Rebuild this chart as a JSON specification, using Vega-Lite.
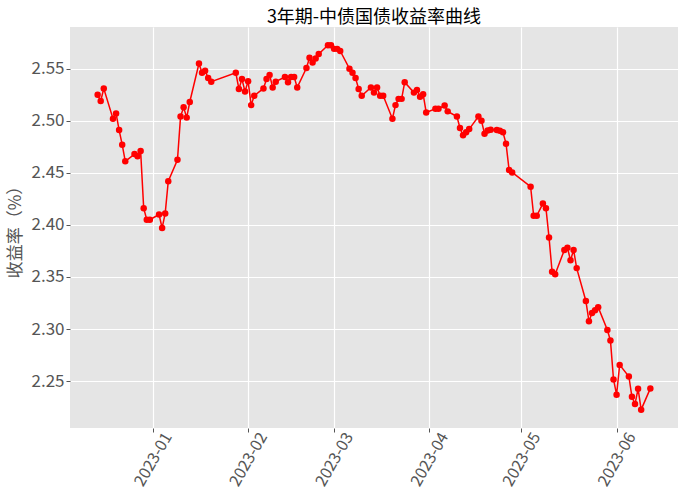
{
  "$schema": "https://vega.github.io/schema/vega-lite/v6.json",
  "width": 608,
  "height": 401,
  "autosize": {"type": "none"},
  "padding": {"left": 70, "top": 27, "right": 8, "bottom": 72},
  "background": "white",
  "title": {
    "text": "3年期-中债国债收益率曲线",
    "font": "Noto Sans CJK SC",
    "fontSize": 18,
    "fontWeight": "normal",
    "color": "#000000",
    "anchor": "middle",
    "offset": 0
  },
  "data": {
    "values": [
      {"date": "2022-12-14", "yield": 2.525},
      {"date": "2022-12-15", "yield": 2.519},
      {"date": "2022-12-16", "yield": 2.531},
      {"date": "2022-12-19", "yield": 2.502},
      {"date": "2022-12-20", "yield": 2.507},
      {"date": "2022-12-21", "yield": 2.491},
      {"date": "2022-12-22", "yield": 2.477},
      {"date": "2022-12-23", "yield": 2.461},
      {"date": "2022-12-26", "yield": 2.468},
      {"date": "2022-12-27", "yield": 2.466},
      {"date": "2022-12-28", "yield": 2.471},
      {"date": "2022-12-29", "yield": 2.416},
      {"date": "2022-12-30", "yield": 2.405},
      {"date": "2022-12-31", "yield": 2.405},
      {"date": "2023-01-03", "yield": 2.410},
      {"date": "2023-01-04", "yield": 2.397},
      {"date": "2023-01-05", "yield": 2.411},
      {"date": "2023-01-06", "yield": 2.442},
      {"date": "2023-01-09", "yield": 2.4625},
      {"date": "2023-01-10", "yield": 2.504},
      {"date": "2023-01-11", "yield": 2.513},
      {"date": "2023-01-12", "yield": 2.503},
      {"date": "2023-01-13", "yield": 2.518},
      {"date": "2023-01-16", "yield": 2.555},
      {"date": "2023-01-17", "yield": 2.546},
      {"date": "2023-01-18", "yield": 2.548},
      {"date": "2023-01-19", "yield": 2.541},
      {"date": "2023-01-20", "yield": 2.5375},
      {"date": "2023-01-28", "yield": 2.546},
      {"date": "2023-01-29", "yield": 2.5305},
      {"date": "2023-01-30", "yield": 2.540},
      {"date": "2023-01-31", "yield": 2.528},
      {"date": "2023-02-01", "yield": 2.538},
      {"date": "2023-02-02", "yield": 2.515},
      {"date": "2023-02-03", "yield": 2.524},
      {"date": "2023-02-06", "yield": 2.531},
      {"date": "2023-02-07", "yield": 2.540},
      {"date": "2023-02-08", "yield": 2.544},
      {"date": "2023-02-09", "yield": 2.532},
      {"date": "2023-02-10", "yield": 2.5375},
      {"date": "2023-02-13", "yield": 2.542},
      {"date": "2023-02-14", "yield": 2.537},
      {"date": "2023-02-15", "yield": 2.542},
      {"date": "2023-02-16", "yield": 2.542},
      {"date": "2023-02-17", "yield": 2.532},
      {"date": "2023-02-20", "yield": 2.5506},
      {"date": "2023-02-21", "yield": 2.5604},
      {"date": "2023-02-22", "yield": 2.556},
      {"date": "2023-02-23", "yield": 2.5598},
      {"date": "2023-02-24", "yield": 2.564},
      {"date": "2023-02-27", "yield": 2.5725},
      {"date": "2023-02-28", "yield": 2.5725},
      {"date": "2023-03-01", "yield": 2.569},
      {"date": "2023-03-02", "yield": 2.569},
      {"date": "2023-03-03", "yield": 2.567},
      {"date": "2023-03-06", "yield": 2.550},
      {"date": "2023-03-07", "yield": 2.546},
      {"date": "2023-03-08", "yield": 2.541},
      {"date": "2023-03-09", "yield": 2.5305},
      {"date": "2023-03-10", "yield": 2.524},
      {"date": "2023-03-13", "yield": 2.532},
      {"date": "2023-03-14", "yield": 2.527},
      {"date": "2023-03-15", "yield": 2.532},
      {"date": "2023-03-16", "yield": 2.524},
      {"date": "2023-03-17", "yield": 2.524},
      {"date": "2023-03-20", "yield": 2.502},
      {"date": "2023-03-21", "yield": 2.515},
      {"date": "2023-03-22", "yield": 2.521},
      {"date": "2023-03-23", "yield": 2.521},
      {"date": "2023-03-24", "yield": 2.537},
      {"date": "2023-03-27", "yield": 2.527},
      {"date": "2023-03-28", "yield": 2.5296},
      {"date": "2023-03-29", "yield": 2.523},
      {"date": "2023-03-30", "yield": 2.5255},
      {"date": "2023-03-31", "yield": 2.508},
      {"date": "2023-04-03", "yield": 2.5115},
      {"date": "2023-04-04", "yield": 2.5115},
      {"date": "2023-04-06", "yield": 2.5146},
      {"date": "2023-04-07", "yield": 2.509},
      {"date": "2023-04-10", "yield": 2.504},
      {"date": "2023-04-11", "yield": 2.493},
      {"date": "2023-04-12", "yield": 2.486},
      {"date": "2023-04-13", "yield": 2.489},
      {"date": "2023-04-14", "yield": 2.492},
      {"date": "2023-04-17", "yield": 2.504},
      {"date": "2023-04-18", "yield": 2.500},
      {"date": "2023-04-19", "yield": 2.4876},
      {"date": "2023-04-20", "yield": 2.4907},
      {"date": "2023-04-21", "yield": 2.4914},
      {"date": "2023-04-23", "yield": 2.491},
      {"date": "2023-04-24", "yield": 2.4905},
      {"date": "2023-04-25", "yield": 2.489},
      {"date": "2023-04-26", "yield": 2.478},
      {"date": "2023-04-27", "yield": 2.4526},
      {"date": "2023-04-28", "yield": 2.4504},
      {"date": "2023-05-04", "yield": 2.4367},
      {"date": "2023-05-05", "yield": 2.4087},
      {"date": "2023-05-06", "yield": 2.4087},
      {"date": "2023-05-08", "yield": 2.4205},
      {"date": "2023-05-09", "yield": 2.416},
      {"date": "2023-05-10", "yield": 2.388},
      {"date": "2023-05-11", "yield": 2.355},
      {"date": "2023-05-12", "yield": 2.3527},
      {"date": "2023-05-15", "yield": 2.376},
      {"date": "2023-05-16", "yield": 2.378},
      {"date": "2023-05-17", "yield": 2.366},
      {"date": "2023-05-18", "yield": 2.376},
      {"date": "2023-05-19", "yield": 2.3585},
      {"date": "2023-05-22", "yield": 2.327},
      {"date": "2023-05-23", "yield": 2.3075},
      {"date": "2023-05-24", "yield": 2.3155},
      {"date": "2023-05-25", "yield": 2.318},
      {"date": "2023-05-26", "yield": 2.321},
      {"date": "2023-05-29", "yield": 2.299},
      {"date": "2023-05-30", "yield": 2.289},
      {"date": "2023-05-31", "yield": 2.2516},
      {"date": "2023-06-01", "yield": 2.237},
      {"date": "2023-06-02", "yield": 2.2656},
      {"date": "2023-06-05", "yield": 2.2545},
      {"date": "2023-06-06", "yield": 2.235},
      {"date": "2023-06-07", "yield": 2.228},
      {"date": "2023-06-08", "yield": 2.2427},
      {"date": "2023-06-09", "yield": 2.2226},
      {"date": "2023-06-12", "yield": 2.243}
    ]
  },
  "mark": {
    "type": "line",
    "color": "#ff0000",
    "strokeWidth": 1.5,
    "point": {"filled": true, "color": "#ff0000", "size": 42, "opacity": 1}
  },
  "encoding": {
    "x": {
      "field": "date",
      "type": "temporal",
      "scale": {
        "type": "utc",
        "domain": [
          {"year": 2022, "month": 12, "date": 5, "utc": true},
          {"year": 2023, "month": 6, "date": 21, "utc": true}
        ]
      },
      "axis": {
        "title": null,
        "labelExpr": "utcFormat(datum.value, '%Y-%m')",
        "tickCount": {"interval": "month", "step": 1},
        "labelAngle": -60,
        "labelAlign": "center",
        "labelBaseline": "middle",
        "labelPadding": 27,
        "labelFontSize": 16
      }
    },
    "y": {
      "field": "yield",
      "type": "quantitative",
      "scale": {"domain": [2.205, 2.59], "zero": false, "nice": false},
      "axis": {
        "title": "收益率（%）",
        "values": [2.25, 2.3, 2.35, 2.4, 2.45, 2.5, 2.55],
        "format": ".2f",
        "labelFontSize": 17,
        "labelPadding": 2,
        "titlePadding": 6
      }
    }
  },
  "config": {
    "font": "Noto Sans CJK SC",
    "view": {"fill": "#e5e5e5", "stroke": null},
    "axis": {
      "domain": false,
      "grid": true,
      "gridColor": "#ffffff",
      "gridWidth": 1.2,
      "tickColor": "#555555",
      "tickSize": 4,
      "labelColor": "#555555",
      "labelFont": "Noto Sans CJK SC",
      "titleFont": "Noto Sans CJK SC",
      "titleFontSize": 17,
      "titleFontWeight": "normal",
      "titleColor": "#555555"
    }
  }
}
